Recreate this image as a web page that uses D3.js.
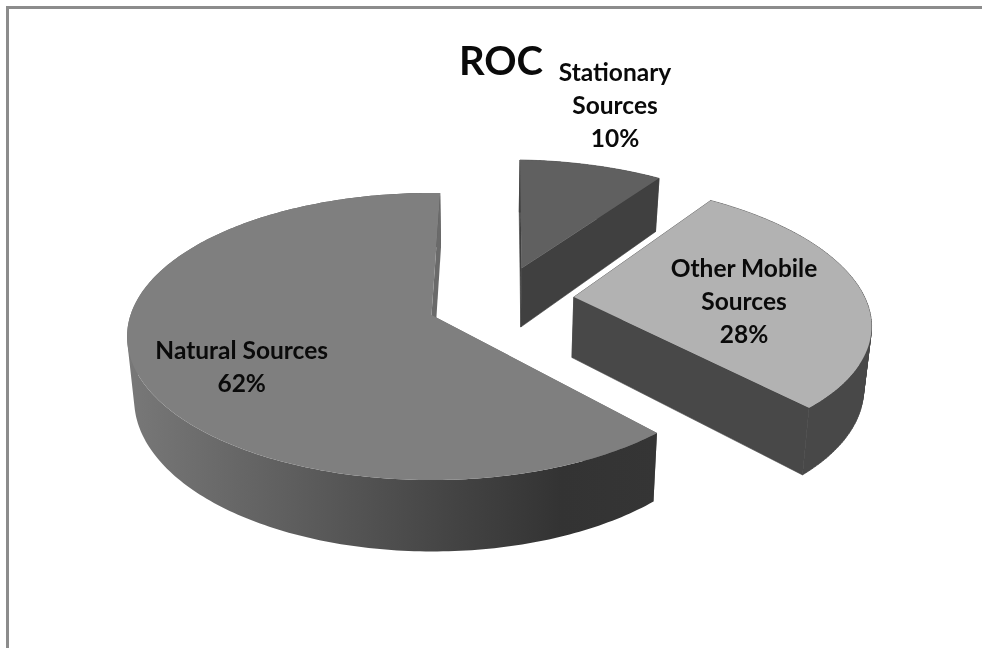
<!DOCTYPE html>
<html>
<head>
<meta charset="utf-8">
<script src="https://cdn.jsdelivr.net/npm/d3@7"></script>
<style>
html,body{margin:0;padding:0;background:#fff;overflow:hidden}
svg{display:block;filter:blur(0.45px)}
text{font-family:Lato,"Open Sans",sans-serif;font-weight:700;fill:#0a0a0a;text-anchor:middle}
</style>
</head>
<body>
<svg id="c" width="982" height="648"></svg>
<script>
const categories = ["Natural Sources", "Stationary Sources", "Other Mobile Sources"];
const values = [62, 10, 28];
const titleText = "ROC";
const labelLines = [["Natural Sources", "62%"], ["Stationary", "Sources", "10%"], ["Other Mobile", "Sources", "28%"]];

// layout
const W = 982, H = 648;
const cx = 431.5, cy = 315, rx = 301, ry = 140.3, persp = 0.15;
const explodeX = [0, 0.315, 0.482];
const explodeY = [0, 0.35, 0.13];
const radius = [1, 0.975, 0.985];
const trimStart = [0.3, 1, -1.5];   // degrees: fine fit of the drawn perspective
const trimEnd = [0.7, -1.4, 0];
const topFill = ["#7f7f7f", "#606060", "#b2b2b2"];
const wallFill = ["url(#rim)", "#404040", "#484848"];
const cutFill = ["#6a6a6a", "#404040", "#484848"];
const labelX = [241.7, 615, 744];
const labelY = [358.5, 81, 276.7];
const labelGap = [33, 33, 33];

const svg = d3.select("#c");
const defs = svg.append("defs");
const grad = defs.append("linearGradient").attr("id", "rim").attr("gradientUnits", "userSpaceOnUse")
  .attr("x1", 128).attr("x2", 656).attr("y1", 0).attr("y2", 0);
[[0, "#787878"], [0.3, "#5f5f5f"], [0.6, "#454545"], [0.82, "#333333"], [1, "#353535"]]
  .forEach(s => grad.append("stop").attr("offset", s[0]).attr("stop-color", s[1]));

// border (top and left only)
svg.append("path").attr("d", `M7.5,${H}V7.5H${W}`).attr("fill", "none").attr("stroke", "#8c8c8c").attr("stroke-width", 3);

const pie = d3.pie().sort(null).value(d => d)
  .startAngle(138 * Math.PI / 180).endAngle((138 + 360) * Math.PI / 180);
const arcs = pie(values);
const rad = Math.PI / 180;

function projTop(p) {
  const w = 1 + persp * p[1];
  return [cx + rx * p[0] / w, cy - ry * p[1] / w];
}
function projBottom(p) {
  const t = projTop(p);
  return [cx + (t[0] - cx) * 0.98 + 1, t[1] + 61.5 + 0.06 * (t[1] - cy)];
}
const line = d3.line();
function rimPoints(i, a0, a1) {
  const n = Math.max(2, Math.ceil((a1 - a0) * 60));
  return d3.range(n + 1).map(k => {
    const a = a0 + (a1 - a0) * k / n;
    return [explodeX[i] + radius[i] * Math.sin(a), explodeY[i] + radius[i] * Math.cos(a)];
  });
}
const apex = i => [explodeX[i], explodeY[i]];
function solid(sel, d, fill, edge) {
  const p = sel.append("path").attr("d", d).attr("fill", fill);
  if (edge) p.attr("stroke", edge).attr("stroke-width", 0.6);
}

// back to front: stationary, natural, other mobile
[1, 0, 2].forEach(i => {
  const d = arcs[i];
  const g = svg.append("g").attr("class", "slice").datum(d);
  const rim = rimPoints(i, d.startAngle + trimStart[i] * rad, d.endAngle + trimEnd[i] * rad);
  const a = apex(i);
  const cut = e => line([projTop(a), projTop(e), projBottom(e), projBottom(a)]) + "Z";
  const edge = i === 0 ? null : wallFill[i];
  const wall = d3.pairs(rim)
    .map(([p, q]) => line(d3.polygonHull([projTop(p), projTop(q), projBottom(p), projBottom(q)])) + "Z")
    .join("");
  solid(g, cut(rim[0]), cutFill[i], edge);
  solid(g, wall, wallFill[i], edge);
  solid(g, cut(rim[rim.length - 1]), cutFill[i], edge);
  solid(g, line([projTop(a)].concat(rim.map(projTop))) + "Z", topFill[i], null);
});

svg.append("text").attr("x", 501).attr("y", 75).attr("font-size", 40).text(titleText);
labelLines.forEach((lines, i) => {
  const t = svg.append("text").attr("font-size", 24.5).attr("data-cat", categories[i]);
  lines.forEach((s, j) => {
    t.append("tspan").attr("x", labelX[i]).attr("y", labelY[i] + j * labelGap[i]).text(s);
  });
});
</script>
</body>
</html>
